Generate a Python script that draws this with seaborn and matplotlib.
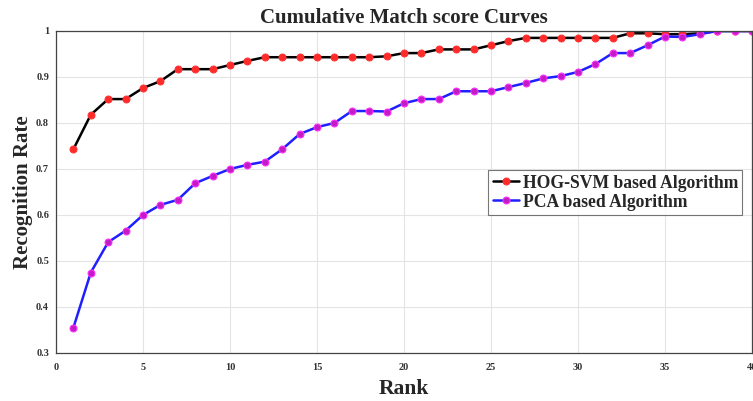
import matplotlib
matplotlib.use("Agg")
import matplotlib.pyplot as plt
import seaborn as sns
import numpy as np
import pandas as pd

ranks = list(range(1, 41))
hog_svm = [0.743, 0.818, 0.852, 0.852, 0.876, 0.891, 0.917, 0.917, 0.917, 0.926,
           0.935, 0.943, 0.943, 0.943, 0.943, 0.943, 0.943, 0.943, 0.945, 0.952,
           0.952, 0.960, 0.960, 0.960, 0.969, 0.978, 0.985, 0.985, 0.985, 0.985,
           0.985, 0.985, 0.995, 0.995, 0.993, 0.993, 0.995, 1.0, 1.0, 1.0]
pca = [0.355, 0.475, 0.541, 0.566, 0.600, 0.622, 0.633, 0.669, 0.685, 0.700,
       0.709, 0.716, 0.743, 0.776, 0.791, 0.800, 0.826, 0.826, 0.825, 0.843,
       0.852, 0.852, 0.869, 0.869, 0.869, 0.878, 0.887, 0.897, 0.902, 0.911,
       0.928, 0.952, 0.952, 0.969, 0.988, 0.987, 0.993, 1.0, 1.0, 1.0]
labels = ["HOG-SVM based Algorithm", "PCA based Algorithm"]
title = "Cumulative Match score Curves"
xlabel = "Rank"
ylabel = "Recognition Rate"
xticks = [0, 5, 10, 15, 20, 25, 30, 35, 40]
yticks = [0.3, 0.4, 0.5, 0.6, 0.7, 0.8, 0.9, 1.0]
ytick_labels = ["0.3", "0.4", "0.5", "0.6", "0.7", "0.8", "0.9", "1"]

sns.set_style("white")
plt.rcParams['font.family'] = ['Liberation Serif', 'DejaVu Serif']
plt.rcParams['font.weight'] = 'bold'

fig = plt.figure(figsize=(7.53, 4.01), dpi=100)
ax = fig.add_axes([56/753, 1-353/401, 696/753, 322/401])

df1 = pd.DataFrame({"Rank": ranks, "Rate": hog_svm})
df2 = pd.DataFrame({"Rank": ranks, "Rate": pca})
sns.lineplot(data=df1, x="Rank", y="Rate", ax=ax, color="black", lw=1.8,
             marker="o", markersize=5, markerfacecolor="#ff2a2a",
             markeredgecolor="#ff3333", label=labels[0])
sns.lineplot(data=df2, x="Rank", y="Rate", ax=ax, color="#1f1fff", lw=1.8,
             marker="o", markersize=5, markerfacecolor="#c41cc4",
             markeredgecolor="#ff30ff", label=labels[1])

ax.set_xlim(0, 40)
ax.set_ylim(0.3, 1.0)
ax.set_xticks(xticks)
ax.set_yticks(yticks)
ax.set_xticklabels([str(t) for t in xticks], fontsize=7.5, fontweight='bold', color='#333333')
ax.set_yticklabels(ytick_labels, fontsize=7.5, fontweight='bold', color='#333333')
ax.tick_params(direction='in', length=3, color='#555555', width=0.8)
ax.tick_params(axis='x', pad=7)
ax.tick_params(axis='y', pad=5)
ax.grid(True, color='#e4e4e4', lw=0.8)
for s in ax.spines.values():
    s.set_color('#444444')
    s.set_linewidth(0.9)

ax.set_title(title, fontsize=15, fontweight='bold', pad=6)
ax.set_xlabel(xlabel, fontsize=15.5, fontweight='bold', labelpad=5)
ax.set_ylabel(ylabel, fontsize=15, fontweight='bold', labelpad=2)

leg = ax.legend(loc='upper left', bbox_to_anchor=(0.621, 0.568),
                prop={'weight': 'bold', 'size': 12.7}, frameon=True, fancybox=False,
                handlelength=1.5, handletextpad=0.2, borderpad=0.25, labelspacing=0.12,
                borderaxespad=0)
leg.get_frame().set_edgecolor('#555555')
leg.get_frame().set_linewidth(0.8)

fig.savefig("out.png", dpi=100)
